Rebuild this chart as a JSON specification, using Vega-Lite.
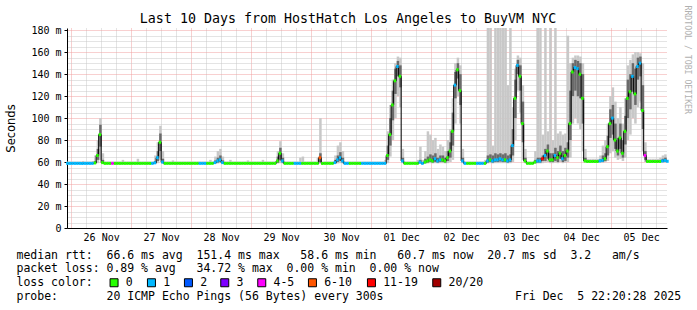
{
  "$schema": "https://vega.github.io/schema/vega-lite/v6.json",
  "width": 600,
  "height": 200,
  "autosize": {"type": "none"},
  "padding": {"left": 67, "top": 28, "right": 30, "bottom": 82},
  "background": "white",
  "config": {
    "view": {"stroke": null},
    "axis": {"labelFont": "DejaVu Sans Mono", "titleFont": "DejaVu Sans Mono", "titleFontWeight": "normal", "titleColor": "black", "labelColor": "black"},
    "legend": {"orient": "none", "direction": "horizontal", "symbolType": "square", "symbolSize": 64, "symbolStrokeColor": "black", "symbolStrokeWidth": 1, "symbolOpacity": 1,
      "labelFont": "DejaVu Sans Mono", "labelFontSize": 11.5, "labelColor": "black", "labelOffset": 6},
    "tick": {"orient": "horizontal", "size": 2.5, "thickness": 3, "opacity": 1, "xOffset": 1.25, "clip": true}
  },
  "data": {"values": [
{"time":"2025-11-25T22:00Z","median":58.8,"min":58.6,"q1":58.7,"q3":59.3,"max":60.5,"loss":"1"},
{"time":"2025-11-25T23:00Z","median":58.8,"min":58.6,"q1":58.7,"q3":59.3,"max":60.5,"loss":"1"},
{"time":"2025-11-26T00:00Z","median":58.8,"min":58.6,"q1":58.7,"q3":59.3,"max":60.5,"loss":"1"},
{"time":"2025-11-26T01:00Z","median":58.8,"min":58.6,"q1":58.7,"q3":59.3,"max":60.5,"loss":"1"},
{"time":"2025-11-26T02:00Z","median":58.8,"min":58.6,"q1":58.7,"q3":59.3,"max":60.5,"loss":"1"},
{"time":"2025-11-26T03:00Z","median":58.8,"min":58.6,"q1":58.7,"q3":59.3,"max":60.5,"loss":"1"},
{"time":"2025-11-26T04:00Z","median":58.8,"min":58.6,"q1":58.7,"q3":59.3,"max":61,"loss":"1"},
{"time":"2025-11-26T05:00Z","median":58.8,"min":58.6,"q1":58.7,"q3":59.3,"max":60.5,"loss":"1"},
{"time":"2025-11-26T06:00Z","median":58.8,"min":58.6,"q1":58.7,"q3":59.3,"max":60.5,"loss":"1"},
{"time":"2025-11-26T07:00Z","median":58.8,"min":58.6,"q1":58.7,"q3":59.3,"max":60.5,"loss":"1"},
{"time":"2025-11-26T08:00Z","median":58.8,"min":58.6,"q1":58.7,"q3":59.3,"max":61,"loss":"1"},
{"time":"2025-11-26T09:00Z","median":59.2,"min":58.6,"q1":58.8,"q3":61,"max":66,"loss":"0"},
{"time":"2025-11-26T10:00Z","median":66,"min":59,"q1":62,"q3":72,"max":80,"loss":"0"},
{"time":"2025-11-26T11:00Z","median":85,"min":62,"q1":74,"q3":94,"max":100,"loss":"0"},
{"time":"2025-11-26T12:00Z","median":59.5,"min":58.6,"q1":58.9,"q3":62,"max":68,"loss":"0"},
{"time":"2025-11-26T13:00Z","median":58.8,"min":58.6,"q1":58.7,"q3":59.3,"max":60.5,"loss":"0"},
{"time":"2025-11-26T14:00Z","median":58.8,"min":58.6,"q1":58.7,"q3":59.3,"max":60.5,"loss":"0"},
{"time":"2025-11-26T15:00Z","median":58.8,"min":58.6,"q1":58.7,"q3":59.3,"max":60.5,"loss":"0"},
{"time":"2025-11-26T16:00Z","median":58.8,"min":58.6,"q1":58.7,"q3":59.3,"max":60.5,"loss":"4-5"},
{"time":"2025-11-26T17:00Z","median":58.8,"min":58.6,"q1":58.7,"q3":59.3,"max":60.5,"loss":"0"},
{"time":"2025-11-26T18:00Z","median":58.8,"min":58.6,"q1":58.7,"q3":59.3,"max":60.5,"loss":"0"},
{"time":"2025-11-26T19:00Z","median":58.8,"min":58.6,"q1":58.7,"q3":59.3,"max":60.5,"loss":"0"},
{"time":"2025-11-26T20:00Z","median":58.8,"min":58.6,"q1":58.7,"q3":59.3,"max":62,"loss":"0"},
{"time":"2025-11-26T21:00Z","median":58.8,"min":58.6,"q1":58.7,"q3":59.3,"max":60.5,"loss":"0"},
{"time":"2025-11-26T22:00Z","median":58.8,"min":58.6,"q1":58.7,"q3":59.3,"max":60.5,"loss":"0"},
{"time":"2025-11-26T23:00Z","median":58.8,"min":58.6,"q1":58.7,"q3":59.3,"max":60.5,"loss":"0"},
{"time":"2025-11-27T00:00Z","median":58.8,"min":58.6,"q1":58.7,"q3":59.3,"max":60.5,"loss":"0"},
{"time":"2025-11-27T01:00Z","median":58.8,"min":58.6,"q1":58.7,"q3":59.3,"max":60.5,"loss":"0"},
{"time":"2025-11-27T02:00Z","median":58.8,"min":58.6,"q1":58.7,"q3":59.3,"max":63,"loss":"0"},
{"time":"2025-11-27T03:00Z","median":58.8,"min":58.6,"q1":58.7,"q3":59.3,"max":60.5,"loss":"0"},
{"time":"2025-11-27T04:00Z","median":58.8,"min":58.6,"q1":58.7,"q3":59.3,"max":60.5,"loss":"0"},
{"time":"2025-11-27T05:00Z","median":58.8,"min":58.6,"q1":58.7,"q3":59.3,"max":60.5,"loss":"0"},
{"time":"2025-11-27T06:00Z","median":58.8,"min":58.6,"q1":58.7,"q3":59.3,"max":60.5,"loss":"0"},
{"time":"2025-11-27T07:00Z","median":58.8,"min":58.6,"q1":58.7,"q3":59.3,"max":60.5,"loss":"0"},
{"time":"2025-11-27T08:00Z","median":58.8,"min":58.6,"q1":58.7,"q3":59.3,"max":60.5,"loss":"1"},
{"time":"2025-11-27T09:00Z","median":59.3,"min":58.6,"q1":58.8,"q3":61,"max":66,"loss":"1"},
{"time":"2025-11-27T10:00Z","median":64,"min":59,"q1":61,"q3":70,"max":78,"loss":"1"},
{"time":"2025-11-27T11:00Z","median":78,"min":62,"q1":70,"q3":86,"max":93,"loss":"0"},
{"time":"2025-11-27T12:00Z","median":60,"min":58.7,"q1":59,"q3":63,"max":70,"loss":"1"},
{"time":"2025-11-27T13:00Z","median":58.8,"min":58.6,"q1":58.7,"q3":59.3,"max":60.5,"loss":"0"},
{"time":"2025-11-27T14:00Z","median":58.8,"min":58.6,"q1":58.7,"q3":59.3,"max":60.5,"loss":"0"},
{"time":"2025-11-27T15:00Z","median":58.8,"min":58.6,"q1":58.7,"q3":59.3,"max":60.5,"loss":"0"},
{"time":"2025-11-27T16:00Z","median":58.8,"min":58.6,"q1":58.7,"q3":59.3,"max":61.5,"loss":"0"},
{"time":"2025-11-27T17:00Z","median":58.8,"min":58.6,"q1":58.7,"q3":59.3,"max":60.5,"loss":"0"},
{"time":"2025-11-27T18:00Z","median":58.8,"min":58.6,"q1":58.7,"q3":59.3,"max":60.5,"loss":"0"},
{"time":"2025-11-27T19:00Z","median":58.8,"min":58.6,"q1":58.7,"q3":59.3,"max":60.5,"loss":"0"},
{"time":"2025-11-27T20:00Z","median":58.8,"min":58.6,"q1":58.7,"q3":59.3,"max":60.5,"loss":"0"},
{"time":"2025-11-27T21:00Z","median":58.8,"min":58.6,"q1":58.7,"q3":59.3,"max":60.5,"loss":"0"},
{"time":"2025-11-27T22:00Z","median":58.8,"min":58.6,"q1":58.7,"q3":59.3,"max":60.5,"loss":"0"},
{"time":"2025-11-27T23:00Z","median":58.8,"min":58.6,"q1":58.7,"q3":59.3,"max":60.5,"loss":"0"},
{"time":"2025-11-28T00:00Z","median":58.8,"min":58.6,"q1":58.7,"q3":59.3,"max":60.5,"loss":"0"},
{"time":"2025-11-28T01:00Z","median":58.8,"min":58.6,"q1":58.7,"q3":59.3,"max":60.5,"loss":"0"},
{"time":"2025-11-28T02:00Z","median":58.8,"min":58.6,"q1":58.7,"q3":59.3,"max":60.5,"loss":"0"},
{"time":"2025-11-28T03:00Z","median":58.8,"min":58.6,"q1":58.7,"q3":59.3,"max":60.5,"loss":"1"},
{"time":"2025-11-28T04:00Z","median":58.8,"min":58.6,"q1":58.7,"q3":59.3,"max":60.5,"loss":"1"},
{"time":"2025-11-28T05:00Z","median":58.8,"min":58.6,"q1":58.7,"q3":59.3,"max":60.5,"loss":"1"},
{"time":"2025-11-28T06:00Z","median":58.8,"min":58.6,"q1":58.7,"q3":59.3,"max":60.5,"loss":"0"},
{"time":"2025-11-28T07:00Z","median":58.8,"min":58.6,"q1":58.7,"q3":59.3,"max":62,"loss":"0"},
{"time":"2025-11-28T08:00Z","median":58.8,"min":58.6,"q1":58.7,"q3":59.3,"max":60.5,"loss":"0"},
{"time":"2025-11-28T09:00Z","median":59.5,"min":58.6,"q1":58.9,"q3":61.5,"max":65,"loss":"1"},
{"time":"2025-11-28T10:00Z","median":61,"min":58.7,"q1":59.5,"q3":64,"max":70,"loss":"1"},
{"time":"2025-11-28T11:00Z","median":62,"min":59,"q1":60,"q3":66,"max":72,"loss":"1"},
{"time":"2025-11-28T12:00Z","median":59.5,"min":58.6,"q1":58.9,"q3":61.5,"max":65,"loss":"1"},
{"time":"2025-11-28T13:00Z","median":58.8,"min":58.6,"q1":58.7,"q3":59.3,"max":60.5,"loss":"0"},
{"time":"2025-11-28T14:00Z","median":58.8,"min":58.6,"q1":58.7,"q3":59.3,"max":60.5,"loss":"0"},
{"time":"2025-11-28T15:00Z","median":58.8,"min":58.6,"q1":58.7,"q3":59.3,"max":62,"loss":"0"},
{"time":"2025-11-28T16:00Z","median":58.8,"min":58.6,"q1":58.7,"q3":59.3,"max":60.5,"loss":"0"},
{"time":"2025-11-28T17:00Z","median":58.8,"min":58.6,"q1":58.7,"q3":59.3,"max":60.5,"loss":"0"},
{"time":"2025-11-28T18:00Z","median":58.8,"min":58.6,"q1":58.7,"q3":59.3,"max":60.5,"loss":"0"},
{"time":"2025-11-28T19:00Z","median":58.8,"min":58.6,"q1":58.7,"q3":59.3,"max":60.5,"loss":"0"},
{"time":"2025-11-28T20:00Z","median":58.8,"min":58.6,"q1":58.7,"q3":59.3,"max":60.5,"loss":"0"},
{"time":"2025-11-28T21:00Z","median":58.8,"min":58.6,"q1":58.7,"q3":59.3,"max":60.5,"loss":"0"},
{"time":"2025-11-28T22:00Z","median":58.8,"min":58.6,"q1":58.7,"q3":59.3,"max":61.5,"loss":"0"},
{"time":"2025-11-28T23:00Z","median":58.8,"min":58.6,"q1":58.7,"q3":59.3,"max":60.5,"loss":"0"},
{"time":"2025-11-29T00:00Z","median":58.8,"min":58.6,"q1":58.7,"q3":59.3,"max":60.5,"loss":"0"},
{"time":"2025-11-29T01:00Z","median":58.8,"min":58.6,"q1":58.7,"q3":59.3,"max":60.5,"loss":"0"},
{"time":"2025-11-29T02:00Z","median":58.8,"min":58.6,"q1":58.7,"q3":59.3,"max":60.5,"loss":"0"},
{"time":"2025-11-29T03:00Z","median":58.8,"min":58.6,"q1":58.7,"q3":59.3,"max":60.5,"loss":"0"},
{"time":"2025-11-29T04:00Z","median":58.8,"min":58.6,"q1":58.7,"q3":59.3,"max":62,"loss":"0"},
{"time":"2025-11-29T05:00Z","median":58.8,"min":58.6,"q1":58.7,"q3":59.3,"max":60.5,"loss":"0"},
{"time":"2025-11-29T06:00Z","median":58.8,"min":58.6,"q1":58.7,"q3":59.3,"max":60.5,"loss":"0"},
{"time":"2025-11-29T07:00Z","median":58.8,"min":58.6,"q1":58.7,"q3":59.3,"max":60.5,"loss":"0"},
{"time":"2025-11-29T08:00Z","median":58.8,"min":58.6,"q1":58.7,"q3":59.3,"max":60.5,"loss":"0"},
{"time":"2025-11-29T09:00Z","median":58.8,"min":58.6,"q1":58.7,"q3":59.3,"max":60.5,"loss":"0"},
{"time":"2025-11-29T10:00Z","median":61,"min":58.7,"q1":59.3,"q3":65,"max":70,"loss":"0"},
{"time":"2025-11-29T11:00Z","median":68,"min":59,"q1":62,"q3":73,"max":79,"loss":"0"},
{"time":"2025-11-29T12:00Z","median":61,"min":58.7,"q1":59.3,"q3":64,"max":68,"loss":"1"},
{"time":"2025-11-29T13:00Z","median":58.8,"min":58.6,"q1":58.7,"q3":59.3,"max":60.5,"loss":"0"},
{"time":"2025-11-29T14:00Z","median":58.8,"min":58.6,"q1":58.7,"q3":59.3,"max":60.5,"loss":"0"},
{"time":"2025-11-29T15:00Z","median":58.8,"min":58.6,"q1":58.7,"q3":59.3,"max":60.5,"loss":"0"},
{"time":"2025-11-29T16:00Z","median":58.8,"min":58.6,"q1":58.7,"q3":59.3,"max":60.5,"loss":"0"},
{"time":"2025-11-29T17:00Z","median":58.8,"min":58.6,"q1":58.7,"q3":59.3,"max":60.5,"loss":"1"},
{"time":"2025-11-29T18:00Z","median":58.8,"min":58.6,"q1":58.7,"q3":59.3,"max":60.5,"loss":"1"},
{"time":"2025-11-29T19:00Z","median":58.8,"min":58.6,"q1":58.7,"q3":59.3,"max":64,"loss":"1"},
{"time":"2025-11-29T20:00Z","median":58.8,"min":58.6,"q1":58.7,"q3":59.3,"max":65,"loss":"0"},
{"time":"2025-11-29T21:00Z","median":58.8,"min":58.6,"q1":58.7,"q3":59.3,"max":60.5,"loss":"0"},
{"time":"2025-11-29T22:00Z","median":58.8,"min":58.6,"q1":58.7,"q3":59.3,"max":60.5,"loss":"0"},
{"time":"2025-11-29T23:00Z","median":58.8,"min":58.6,"q1":58.7,"q3":59.3,"max":60.5,"loss":"0"},
{"time":"2025-11-30T00:00Z","median":58.8,"min":58.6,"q1":58.7,"q3":59.3,"max":60.5,"loss":"0"},
{"time":"2025-11-30T01:00Z","median":58.8,"min":58.6,"q1":58.7,"q3":59.3,"max":60.5,"loss":"0"},
{"time":"2025-11-30T02:00Z","median":58.8,"min":58.6,"q1":58.7,"q3":59.3,"max":64,"loss":"0"},
{"time":"2025-11-30T03:00Z","median":64,"min":59,"q1":60,"q3":68,"max":100,"loss":"6-10"},
{"time":"2025-11-30T04:00Z","median":58.8,"min":58.6,"q1":58.7,"q3":59.3,"max":60.5,"loss":"0"},
{"time":"2025-11-30T05:00Z","median":58.8,"min":58.6,"q1":58.7,"q3":59.3,"max":60.5,"loss":"0"},
{"time":"2025-11-30T06:00Z","median":58.8,"min":58.6,"q1":58.7,"q3":59.3,"max":60.5,"loss":"0"},
{"time":"2025-11-30T07:00Z","median":58.8,"min":58.6,"q1":58.7,"q3":59.3,"max":60.5,"loss":"0"},
{"time":"2025-11-30T08:00Z","median":58.8,"min":58.6,"q1":58.7,"q3":59.3,"max":60.5,"loss":"0"},
{"time":"2025-11-30T09:00Z","median":59.5,"min":58.6,"q1":58.9,"q3":62,"max":66,"loss":"1"},
{"time":"2025-11-30T10:00Z","median":62,"min":58.8,"q1":60,"q3":66,"max":75,"loss":"1"},
{"time":"2025-11-30T11:00Z","median":64,"min":59,"q1":61,"q3":69,"max":78,"loss":"1"},
{"time":"2025-11-30T12:00Z","median":61,"min":58.7,"q1":59.5,"q3":64,"max":70,"loss":"1"},
{"time":"2025-11-30T13:00Z","median":58.8,"min":58.6,"q1":58.7,"q3":59.3,"max":60.5,"loss":"1"},
{"time":"2025-11-30T14:00Z","median":58.8,"min":58.6,"q1":58.7,"q3":59.3,"max":60.5,"loss":"1"},
{"time":"2025-11-30T15:00Z","median":58.8,"min":58.6,"q1":58.7,"q3":59.3,"max":60.5,"loss":"0"},
{"time":"2025-11-30T16:00Z","median":58.8,"min":58.6,"q1":58.7,"q3":59.3,"max":60.5,"loss":"0"},
{"time":"2025-11-30T17:00Z","median":58.8,"min":58.6,"q1":58.7,"q3":59.3,"max":60.5,"loss":"0"},
{"time":"2025-11-30T18:00Z","median":58.8,"min":58.6,"q1":58.7,"q3":59.3,"max":60.5,"loss":"0"},
{"time":"2025-11-30T19:00Z","median":58.8,"min":58.6,"q1":58.7,"q3":59.3,"max":60.5,"loss":"0"},
{"time":"2025-11-30T20:00Z","median":58.8,"min":58.6,"q1":58.7,"q3":59.3,"max":60.5,"loss":"1"},
{"time":"2025-11-30T21:00Z","median":58.8,"min":58.6,"q1":58.7,"q3":59.3,"max":60.5,"loss":"1"},
{"time":"2025-11-30T22:00Z","median":58.8,"min":58.6,"q1":58.7,"q3":59.3,"max":60.5,"loss":"1"},
{"time":"2025-11-30T23:00Z","median":58.8,"min":58.6,"q1":58.7,"q3":59.3,"max":60.5,"loss":"1"},
{"time":"2025-12-01T00:00Z","median":58.8,"min":58.6,"q1":58.7,"q3":59.3,"max":60.5,"loss":"1"},
{"time":"2025-12-01T01:00Z","median":58.8,"min":58.6,"q1":58.7,"q3":59.3,"max":60.5,"loss":"1"},
{"time":"2025-12-01T02:00Z","median":58.8,"min":58.6,"q1":58.7,"q3":59.3,"max":60.5,"loss":"1"},
{"time":"2025-12-01T03:00Z","median":58.8,"min":58.6,"q1":58.7,"q3":59.3,"max":60.5,"loss":"1"},
{"time":"2025-12-01T04:00Z","median":58.8,"min":58.6,"q1":58.7,"q3":59.3,"max":60.5,"loss":"1"},
{"time":"2025-12-01T05:00Z","median":58.8,"min":58.6,"q1":58.7,"q3":59.3,"max":62,"loss":"1"},
{"time":"2025-12-01T06:00Z","median":66,"min":59,"q1":62,"q3":75,"max":88,"loss":"0"},
{"time":"2025-12-01T07:00Z","median":85,"min":65,"q1":75,"q3":100,"max":112,"loss":"0"},
{"time":"2025-12-01T08:00Z","median":112,"min":80,"q1":98,"q3":125,"max":135,"loss":"0"},
{"time":"2025-12-01T09:00Z","median":134,"min":100,"q1":122,"q3":145,"max":150,"loss":"0"},
{"time":"2025-12-01T10:00Z","median":147,"min":120,"q1":138,"q3":152,"max":156,"loss":"1"},
{"time":"2025-12-01T11:00Z","median":138,"min":110,"q1":128,"q3":148,"max":155,"loss":"0"},
{"time":"2025-12-01T12:00Z","median":61,"min":59,"q1":60,"q3":64,"max":72,"loss":"1"},
{"time":"2025-12-01T13:00Z","median":58.8,"min":58.6,"q1":58.7,"q3":59.3,"max":60.5,"loss":"0"},
{"time":"2025-12-01T14:00Z","median":58.8,"min":58.6,"q1":58.7,"q3":59.3,"max":60.5,"loss":"0"},
{"time":"2025-12-01T15:00Z","median":58.8,"min":58.6,"q1":58.7,"q3":59.3,"max":60.5,"loss":"0"},
{"time":"2025-12-01T16:00Z","median":58.8,"min":58.6,"q1":58.7,"q3":59.3,"max":60.5,"loss":"0"},
{"time":"2025-12-01T17:00Z","median":58.8,"min":58.6,"q1":58.7,"q3":59.3,"max":60.5,"loss":"0"},
{"time":"2025-12-01T18:00Z","median":58.8,"min":58.6,"q1":58.7,"q3":59.3,"max":62,"loss":"0"},
{"time":"2025-12-01T19:00Z","median":60,"min":58.7,"q1":59,"q3":62,"max":74,"loss":"1"},
{"time":"2025-12-01T20:00Z","median":58.8,"min":58.6,"q1":58.7,"q3":59.3,"max":62,"loss":"1"},
{"time":"2025-12-01T21:00Z","median":60,"min":58.7,"q1":59,"q3":63,"max":70,"loss":"0"},
{"time":"2025-12-01T22:00Z","median":61,"min":58.8,"q1":59.5,"q3":65,"max":88,"loss":"0"},
{"time":"2025-12-01T23:00Z","median":62,"min":59,"q1":60,"q3":67,"max":85,"loss":"0"},
{"time":"2025-12-02T00:00Z","median":61,"min":58.8,"q1":59.5,"q3":66,"max":80,"loss":"0"},
{"time":"2025-12-02T01:00Z","median":63,"min":59,"q1":60,"q3":68,"max":82,"loss":"1"},
{"time":"2025-12-02T02:00Z","median":61,"min":58.8,"q1":59.5,"q3":64,"max":72,"loss":"1"},
{"time":"2025-12-02T03:00Z","median":62,"min":59,"q1":60,"q3":66,"max":76,"loss":"1"},
{"time":"2025-12-02T04:00Z","median":62,"min":59,"q1":60,"q3":66,"max":74,"loss":"0"},
{"time":"2025-12-02T05:00Z","median":61,"min":58.8,"q1":59.5,"q3":64,"max":70,"loss":"0"},
{"time":"2025-12-02T06:00Z","median":64,"min":59,"q1":61,"q3":70,"max":80,"loss":"0"},
{"time":"2025-12-02T07:00Z","median":70,"min":60,"q1":64,"q3":78,"max":90,"loss":"0"},
{"time":"2025-12-02T08:00Z","median":88,"min":62,"q1":75,"q3":105,"max":118,"loss":"0"},
{"time":"2025-12-02T09:00Z","median":130,"min":95,"q1":118,"q3":142,"max":150,"loss":"1"},
{"time":"2025-12-02T10:00Z","median":144,"min":120,"q1":136,"q3":150,"max":155,"loss":"0"},
{"time":"2025-12-02T11:00Z","median":125,"min":95,"q1":112,"q3":140,"max":148,"loss":"0"},
{"time":"2025-12-02T12:00Z","median":61,"min":59,"q1":60,"q3":64,"max":72,"loss":"1"},
{"time":"2025-12-02T13:00Z","median":58.8,"min":58.6,"q1":58.7,"q3":59.3,"max":60.5,"loss":"1"},
{"time":"2025-12-02T14:00Z","median":58.8,"min":58.6,"q1":58.7,"q3":59.3,"max":60.5,"loss":"0"},
{"time":"2025-12-02T15:00Z","median":58.8,"min":58.6,"q1":58.7,"q3":59.3,"max":60.5,"loss":"0"},
{"time":"2025-12-02T16:00Z","median":58.8,"min":58.6,"q1":58.7,"q3":59.3,"max":60.5,"loss":"0"},
{"time":"2025-12-02T17:00Z","median":58.8,"min":58.6,"q1":58.7,"q3":59.3,"max":60.5,"loss":"0"},
{"time":"2025-12-02T18:00Z","median":58.8,"min":58.6,"q1":58.7,"q3":59.3,"max":60.5,"loss":"1"},
{"time":"2025-12-02T19:00Z","median":58.8,"min":58.6,"q1":58.7,"q3":59.3,"max":60.5,"loss":"1"},
{"time":"2025-12-02T20:00Z","median":58.8,"min":58.6,"q1":58.7,"q3":59.3,"max":60.5,"loss":"1"},
{"time":"2025-12-02T21:00Z","median":58.8,"min":58.6,"q1":58.7,"q3":59.3,"max":62,"loss":"0"},
{"time":"2025-12-02T22:00Z","median":61,"min":58.8,"q1":59.5,"q3":66,"max":182,"loss":"1"},
{"time":"2025-12-02T23:00Z","median":62,"min":59,"q1":60,"q3":67,"max":182,"loss":"0"},
{"time":"2025-12-03T00:00Z","median":61,"min":58.8,"q1":59.5,"q3":66,"max":75,"loss":"1"},
{"time":"2025-12-03T01:00Z","median":62,"min":59,"q1":60,"q3":68,"max":182,"loss":"1"},
{"time":"2025-12-03T02:00Z","median":62,"min":59,"q1":60,"q3":67,"max":182,"loss":"1"},
{"time":"2025-12-03T03:00Z","median":63,"min":59,"q1":60.5,"q3":68,"max":182,"loss":"1"},
{"time":"2025-12-03T04:00Z","median":62,"min":59,"q1":60,"q3":67,"max":182,"loss":"1"},
{"time":"2025-12-03T05:00Z","median":62,"min":59,"q1":60,"q3":68,"max":182,"loss":"0"},
{"time":"2025-12-03T06:00Z","median":61,"min":58.8,"q1":59.5,"q3":66,"max":130,"loss":"1"},
{"time":"2025-12-03T07:00Z","median":62,"min":59,"q1":60,"q3":67,"max":182,"loss":"1"},
{"time":"2025-12-03T08:00Z","median":75,"min":60,"q1":66,"q3":90,"max":110,"loss":"1"},
{"time":"2025-12-03T09:00Z","median":118,"min":80,"q1":100,"q3":135,"max":145,"loss":"0"},
{"time":"2025-12-03T10:00Z","median":148,"min":125,"q1":140,"q3":153,"max":157,"loss":"1"},
{"time":"2025-12-03T11:00Z","median":138,"min":105,"q1":125,"q3":148,"max":155,"loss":"0"},
{"time":"2025-12-03T12:00Z","median":95,"min":62,"q1":78,"q3":115,"max":130,"loss":"0"},
{"time":"2025-12-03T13:00Z","median":61,"min":59,"q1":60,"q3":64,"max":72,"loss":"0"},
{"time":"2025-12-03T14:00Z","median":58.8,"min":58.6,"q1":58.7,"q3":59.3,"max":60.5,"loss":"0"},
{"time":"2025-12-03T15:00Z","median":58.8,"min":58.6,"q1":58.7,"q3":59.3,"max":60.5,"loss":"0"},
{"time":"2025-12-03T16:00Z","median":58.8,"min":58.6,"q1":58.7,"q3":59.3,"max":60.5,"loss":"0"},
{"time":"2025-12-03T17:00Z","median":60,"min":58.7,"q1":59,"q3":62,"max":70,"loss":"0"},
{"time":"2025-12-03T18:00Z","median":61,"min":58.8,"q1":59.5,"q3":64,"max":182,"loss":"1"},
{"time":"2025-12-03T19:00Z","median":61,"min":58.8,"q1":59.5,"q3":64,"max":182,"loss":"1"},
{"time":"2025-12-03T20:00Z","median":63,"min":59,"q1":61,"q3":66,"max":85,"loss":"11-19"},
{"time":"2025-12-03T21:00Z","median":66,"min":59.5,"q1":61,"q3":72,"max":182,"loss":"1"},
{"time":"2025-12-03T22:00Z","median":70,"min":60,"q1":63,"q3":76,"max":88,"loss":"0"},
{"time":"2025-12-03T23:00Z","median":62,"min":59,"q1":60,"q3":68,"max":182,"loss":"0"},
{"time":"2025-12-04T00:00Z","median":62,"min":59,"q1":60,"q3":68,"max":80,"loss":"0"},
{"time":"2025-12-04T01:00Z","median":66,"min":59.5,"q1":61,"q3":73,"max":182,"loss":"1"},
{"time":"2025-12-04T02:00Z","median":64,"min":59,"q1":60,"q3":70,"max":86,"loss":"0"},
{"time":"2025-12-04T03:00Z","median":68,"min":60,"q1":63,"q3":75,"max":88,"loss":"0"},
{"time":"2025-12-04T04:00Z","median":63,"min":59,"q1":60,"q3":70,"max":85,"loss":"1"},
{"time":"2025-12-04T05:00Z","median":66,"min":59.5,"q1":61,"q3":73,"max":86,"loss":"0"},
{"time":"2025-12-04T06:00Z","median":70,"min":60,"q1":64,"q3":78,"max":175,"loss":"0"},
{"time":"2025-12-04T07:00Z","median":95,"min":64,"q1":80,"q3":125,"max":150,"loss":"0"},
{"time":"2025-12-04T08:00Z","median":142,"min":95,"q1":120,"q3":150,"max":155,"loss":"0"},
{"time":"2025-12-04T09:00Z","median":146,"min":100,"q1":125,"q3":153,"max":157,"loss":"1"},
{"time":"2025-12-04T10:00Z","median":145,"min":95,"q1":120,"q3":152,"max":157,"loss":"1"},
{"time":"2025-12-04T11:00Z","median":140,"min":90,"q1":118,"q3":150,"max":156,"loss":"0"},
{"time":"2025-12-04T12:00Z","median":118,"min":70,"q1":95,"q3":140,"max":150,"loss":"0"},
{"time":"2025-12-04T13:00Z","median":61,"min":59.5,"q1":60,"q3":64,"max":72,"loss":"0"},
{"time":"2025-12-04T14:00Z","median":60.5,"min":59.5,"q1":60,"q3":61.5,"max":63,"loss":"0"},
{"time":"2025-12-04T15:00Z","median":60.5,"min":59.5,"q1":60,"q3":61.5,"max":63,"loss":"0"},
{"time":"2025-12-04T16:00Z","median":60.5,"min":59.5,"q1":60,"q3":61.5,"max":63,"loss":"0"},
{"time":"2025-12-04T17:00Z","median":60.5,"min":59.5,"q1":60,"q3":61.5,"max":63,"loss":"0"},
{"time":"2025-12-04T18:00Z","median":60.5,"min":59.5,"q1":60,"q3":61.5,"max":63,"loss":"0"},
{"time":"2025-12-04T19:00Z","median":61,"min":59.5,"q1":60,"q3":62.5,"max":66,"loss":"1"},
{"time":"2025-12-04T20:00Z","median":61.5,"min":59.5,"q1":60,"q3":66,"max":75,"loss":"1"},
{"time":"2025-12-04T21:00Z","median":63,"min":60,"q1":61,"q3":68,"max":80,"loss":"0"},
{"time":"2025-12-04T22:00Z","median":74,"min":61,"q1":66,"q3":84,"max":95,"loss":"0"},
{"time":"2025-12-04T23:00Z","median":95,"min":68,"q1":82,"q3":108,"max":120,"loss":"0"},
{"time":"2025-12-05T00:00Z","median":100,"min":70,"q1":85,"q3":112,"max":128,"loss":"1"},
{"time":"2025-12-05T01:00Z","median":80,"min":64,"q1":72,"q3":95,"max":115,"loss":"0"},
{"time":"2025-12-05T02:00Z","median":70,"min":62,"q1":66,"q3":82,"max":100,"loss":"0"},
{"time":"2025-12-05T03:00Z","median":82,"min":63,"q1":72,"q3":95,"max":110,"loss":"0"},
{"time":"2025-12-05T04:00Z","median":68,"min":61,"q1":64,"q3":80,"max":95,"loss":"0"},
{"time":"2025-12-05T05:00Z","median":88,"min":64,"q1":76,"q3":102,"max":118,"loss":"0"},
{"time":"2025-12-05T06:00Z","median":118,"min":80,"q1":100,"q3":135,"max":148,"loss":"0"},
{"time":"2025-12-05T07:00Z","median":124,"min":85,"q1":108,"q3":140,"max":153,"loss":"0"},
{"time":"2025-12-05T08:00Z","median":138,"min":100,"q1":124,"q3":150,"max":158,"loss":"1"},
{"time":"2025-12-05T09:00Z","median":122,"min":95,"q1":112,"q3":145,"max":160,"loss":"0"},
{"time":"2025-12-05T10:00Z","median":147,"min":110,"q1":135,"q3":155,"max":160,"loss":"1"},
{"time":"2025-12-05T11:00Z","median":150,"min":115,"q1":138,"q3":156,"max":159,"loss":"1"},
{"time":"2025-12-05T12:00Z","median":107,"min":70,"q1":90,"q3":130,"max":150,"loss":"0"},
{"time":"2025-12-05T13:00Z","median":66,"min":60,"q1":62,"q3":70,"max":78,"loss":"4-5"},
{"time":"2025-12-05T14:00Z","median":60.5,"min":59.5,"q1":60,"q3":61.5,"max":63,"loss":"0"},
{"time":"2025-12-05T15:00Z","median":60.5,"min":59.5,"q1":60,"q3":61.5,"max":63,"loss":"0"},
{"time":"2025-12-05T16:00Z","median":60.5,"min":59.5,"q1":60,"q3":61.5,"max":63,"loss":"0"},
{"time":"2025-12-05T17:00Z","median":60.5,"min":59.5,"q1":60,"q3":61.5,"max":63,"loss":"0"},
{"time":"2025-12-05T18:00Z","median":60.5,"min":59.5,"q1":60,"q3":61.5,"max":63,"loss":"0"},
{"time":"2025-12-05T19:00Z","median":60.5,"min":59.5,"q1":60,"q3":62,"max":64,"loss":"0"},
{"time":"2025-12-05T20:00Z","median":61,"min":59.5,"q1":60,"q3":63,"max":66,"loss":"1"},
{"time":"2025-12-05T21:00Z","median":61.5,"min":59.5,"q1":60,"q3":64,"max":67,"loss":"1"},
{"time":"2025-12-05T22:00Z","median":60.7,"min":59.5,"q1":60,"q3":62,"max":63,"loss":"1"}
  ]},
  "layer": [
    {
      "mark": {"type": "bar", "color": "#c8c8c8", "binSpacing": 0, "clip": true},
      "encoding": {
        "x": {"field": "time", "timeUnit": "utcyearmonthdatehours", "type": "temporal",
          "scale": {"type": "utc", "domain": [1764109200000, 1764973200000]},
          "axis": {"orient": "bottom", "labels": false, "ticks": false, "domain": false, "title": null, "grid": true, "gridColor": "#c8c8c8", "gridDash": [1, 1],
            "values": [1764136800000,1764158400000,1764180000000,1764223200000,1764244800000,1764266400000,1764309600000,1764331200000,1764352800000,1764396000000,1764417600000,1764439200000,1764482400000,1764504000000,1764525600000,1764568800000,1764590400000,1764612000000,1764655200000,1764676800000,1764698400000,1764741600000,1764763200000,1764784800000,1764828000000,1764849600000,1764871200000,1764914400000,1764936000000,1764957600000]}},
        "y": {"field": "min", "type": "quantitative", "scale": {"domain": [0, 182], "nice": false, "zero": false},
          "axis": {"orient": "left", "labels": false, "ticks": false, "domain": false, "title": null, "grid": true, "gridColor": "#c8c8c8", "gridDash": [1, 1], "values": [5,10,15,25,30,35,45,50,55,65,70,75,85,90,95,105,110,115,125,130,135,145,150,155,165,170,175]}},
        "y2": {"field": "max"}
      }
    },
    {
      "mark": {"type": "bar", "color": "#6a6a6a", "binSpacing": 0, "clip": true},
      "encoding": {
        "x": {"field": "time", "timeUnit": "utcyearmonthdatehours", "type": "temporal",
          "axis": {"orient": "bottom", "grid": true, "gridColor": "#f0a0a0", "gridDash": [1, 1],
            "values": [1764115200000,1764201600000,1764288000000,1764374400000,1764460800000,1764547200000,1764633600000,1764720000000,1764806400000,1764892800000],
            "format": "%d %b", "labelOffset": 30, "labelFontSize": 10, "labelPadding": 4, "labelFlush": false, "labelOverlap": false,
            "ticks": false, "domain": true, "domainColor": "black", "domainWidth": 1,
            "title": ["median\u00a0rtt:\u00a0\u00a066.6\u00a0ms\u00a0avg\u00a0\u00a0151.4\u00a0ms\u00a0max\u00a0\u00a0\u00a058.6\u00a0ms\u00a0min\u00a0\u00a0\u00a060.7\u00a0ms\u00a0now\u00a0\u00a020.7\u00a0ms\u00a0sd\u00a0\u00a03.2\u00a0\u00a0\u00a0am/s",
                      "packet\u00a0loss:\u00a00.89\u00a0%\u00a0avg\u00a0\u00a0\u00a034.72\u00a0%\u00a0max\u00a0\u00a00.00\u00a0%\u00a0min\u00a0\u00a00.00\u00a0%\u00a0now",
                      "loss\u00a0color:",
                      "probe:\u00a0\u00a0\u00a0\u00a0\u00a0\u00a0\u00a020\u00a0ICMP\u00a0Echo\u00a0Pings\u00a0(56\u00a0Bytes)\u00a0every\u00a0300s\u00a0\u00a0\u00a0\u00a0\u00a0\u00a0\u00a0\u00a0\u00a0\u00a0\u00a0\u00a0\u00a0\u00a0\u00a0\u00a0\u00a0\u00a0\u00a0Fri\u00a0Dec\u00a0\u00a05\u00a022:20:28\u00a02025"],
            "titleX": -51, "titleY": 30, "titleAlign": "left", "titleBaseline": "alphabetic", "titleFontSize": 11.5, "titleLineHeight": 13.7, "titleAngle": 0}},
        "y": {"field": "q1", "type": "quantitative",
          "axis": {"orient": "left", "grid": true, "gridColor": "#f0a0a0", "gridDash": [1, 1], "values": [0,20,40,60,80,100,120,140,160,180],
            "labelExpr": "datum.value == 0 ? '0\u00a0\u00a0' : datum.value + '\u00a0m'", "labelFontSize": 10, "labelPadding": 3,
            "ticks": true, "tickSize": 3, "tickColor": "black", "domain": true, "domainColor": "black",
            "title": "Seconds", "titleFont": "DejaVu Sans", "titleFontSize": 11.5, "titleX": -56, "titleY": 100, "titleAngle": 270, "titleAlign": "center", "titleBaseline": "middle"}},
        "y2": {"field": "q3"}
      }
    },
    {
      "mark": {"type": "line", "color": "black", "strokeWidth": 1, "interpolate": "step-after", "clip": true},
      "encoding": {
        "x": {"field": "time", "timeUnit": "utcyearmonthdatehours", "type": "temporal",
          "axis": {"orient": "top", "labels": false, "ticks": false, "domain": false, "grid": false,
            "title": "Last 10 Days from HostHatch Los Angeles to BuyVM NYC", "titleX": 280.5, "titleY": -5.5, "titleAlign": "center", "titleBaseline": "alphabetic", "titleFontSize": 13.3, "titleAngle": 0}},
        "y": {"field": "median", "type": "quantitative",
          "axis": {"orient": "right", "labels": false, "ticks": false, "domain": false, "grid": false,
            "title": "RRDTOOL / TOBI OETIKER", "titleX": 19, "titleY": -23, "titleAngle": 90, "titleAlign": "left", "titleBaseline": "middle", "titleFontSize": 8.2, "titleColor": "#b0b0b0"}}
      }
    },
    {
      "transform": [{"filter": {"field": "loss", "equal": "0"}}],
      "mark": {"type": "tick"},
      "encoding": {
        "x": {"field": "time", "timeUnit": "utcyearmonthdatehours", "type": "temporal", "axis": null},
        "y": {"field": "median", "type": "quantitative", "axis": null},
        "color": {"field": "loss", "type": "nominal", "scale": {"domain": ["0"], "range": ["#26ff00"]}, "legend": {"title": null, "legendX": 41.3, "legendY": 249}}
      }
    },
    {
      "transform": [{"filter": {"field": "loss", "equal": "1"}}],
      "mark": {"type": "tick"},
      "encoding": {
        "x": {"field": "time", "timeUnit": "utcyearmonthdatehours", "type": "temporal", "axis": null},
        "y": {"field": "median", "type": "quantitative", "axis": null},
        "color": {"field": "loss", "type": "nominal", "scale": {"domain": ["1"], "range": ["#00b8ff"]}, "legend": {"title": null, "legendX": 78.7, "legendY": 249}}
      }
    },
    {
      "transform": [{"filter": {"field": "loss", "equal": "2"}}],
      "mark": {"type": "tick"},
      "encoding": {
        "x": {"field": "time", "timeUnit": "utcyearmonthdatehours", "type": "temporal", "axis": null},
        "y": {"field": "median", "type": "quantitative", "axis": null},
        "color": {"field": "loss", "type": "nominal", "scale": {"domain": ["2"], "range": ["#0059ff"]}, "legend": {"title": null, "legendX": 115.7, "legendY": 249}}
      }
    },
    {
      "transform": [{"filter": {"field": "loss", "equal": "3"}}],
      "mark": {"type": "tick"},
      "encoding": {
        "x": {"field": "time", "timeUnit": "utcyearmonthdatehours", "type": "temporal", "axis": null},
        "y": {"field": "median", "type": "quantitative", "axis": null},
        "color": {"field": "loss", "type": "nominal", "scale": {"domain": ["3"], "range": ["#7e00ff"]}, "legend": {"title": null, "legendX": 152, "legendY": 249}}
      }
    },
    {
      "transform": [{"filter": {"field": "loss", "equal": "4-5"}}],
      "mark": {"type": "tick"},
      "encoding": {
        "x": {"field": "time", "timeUnit": "utcyearmonthdatehours", "type": "temporal", "axis": null},
        "y": {"field": "median", "type": "quantitative", "axis": null},
        "color": {"field": "loss", "type": "nominal", "scale": {"domain": ["4-5"], "range": ["#ff00ff"]}, "legend": {"title": null, "legendX": 189, "legendY": 249}}
      }
    },
    {
      "transform": [{"filter": {"field": "loss", "equal": "6-10"}}],
      "mark": {"type": "tick"},
      "encoding": {
        "x": {"field": "time", "timeUnit": "utcyearmonthdatehours", "type": "temporal", "axis": null},
        "y": {"field": "median", "type": "quantitative", "axis": null},
        "color": {"field": "loss", "type": "nominal", "scale": {"domain": ["6-10"], "range": ["#ff5500"]}, "legend": {"title": null, "legendX": 239.7, "legendY": 249}}
      }
    },
    {
      "transform": [{"filter": {"field": "loss", "equal": "11-19"}}],
      "mark": {"type": "tick"},
      "encoding": {
        "x": {"field": "time", "timeUnit": "utcyearmonthdatehours", "type": "temporal", "axis": null},
        "y": {"field": "median", "type": "quantitative", "axis": null},
        "color": {"field": "loss", "type": "nominal", "scale": {"domain": ["11-19"], "range": ["#ff0000"]}, "legend": {"title": null, "legendX": 298.7, "legendY": 249}}
      }
    },
    {
      "transform": [{"filter": {"field": "loss", "equal": "20/20"}}],
      "mark": {"type": "tick"},
      "encoding": {
        "x": {"field": "time", "timeUnit": "utcyearmonthdatehours", "type": "temporal", "axis": null},
        "y": {"field": "median", "type": "quantitative", "axis": null},
        "color": {"field": "loss", "type": "nominal", "scale": {"domain": ["20/20"], "range": ["#a10000"]}, "legend": {"title": null, "legendX": 364, "legendY": 249}}
      }
    }
  ],
  "resolve": {"axis": {"x": "independent", "y": "independent"}, "scale": {"color": "independent"}, "legend": {"color": "independent"}}
}
